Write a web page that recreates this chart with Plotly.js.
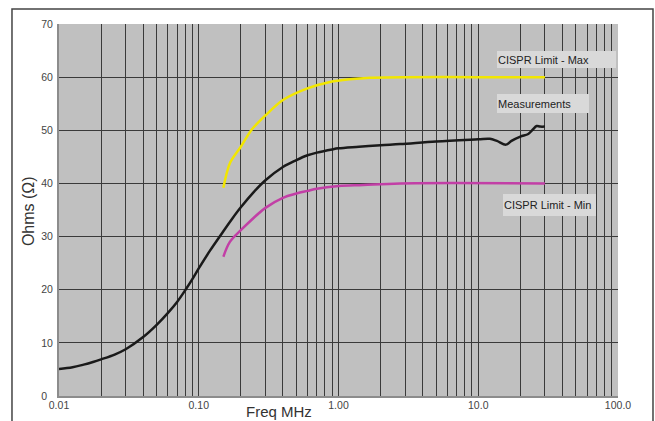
<!DOCTYPE html>
<html>
<head>
<meta charset="utf-8">
<script src="https://cdn.plot.ly/plotly-3.0.1.min.js"></script>
<style>html,body{margin:0;padding:0;background:#fff;}#chart{width:655px;height:421px;}</style>
</head>
<body>
<div id="chart"></div>
<script>
// ---- data ----
const measFreq = [0.01, 0.0125, 0.015, 0.0175, 0.02, 0.025, 0.03, 0.04, 0.05, 0.06, 0.07, 0.08, 0.09, 0.10, 0.12, 0.15, 0.174, 0.2, 0.25, 0.3, 0.4, 0.5, 0.6, 0.7, 0.9, 1.0, 1.4, 2.0, 2.76, 5.0, 10, 12.1, 13.6, 15.8, 17.3, 20, 22.8, 24.5, 26.2, 27.7, 30];
const measOhms = [5.1, 5.4, 5.9, 6.4, 6.9, 7.8, 8.8, 11.1, 13.4, 15.6, 17.7, 19.9, 22.0, 24.0, 27.3, 31.0, 33.4, 35.5, 38.5, 40.6, 43.1, 44.4, 45.3, 45.8, 46.4, 46.6, 46.9, 47.2, 47.4, 47.9, 48.3, 48.4, 48.0, 47.3, 48.0, 48.8, 49.3, 50.1, 50.8, 50.7, 50.7];

const maxFreq = [0.15, 0.167, 0.2, 0.239, 0.3, 0.4, 0.6, 0.87, 1.2, 1.68, 3, 10, 30];
const maxOhms = [39.2, 43.8, 46.9, 50.1, 52.8, 55.7, 57.9, 59.1, 59.6, 59.9, 60, 60, 60];

const minFreq = [0.15, 0.167, 0.2, 0.3, 0.4, 0.5, 0.6, 0.7, 1.0, 1.5, 2.76, 30];
const minOhms = [26.2, 29.0, 31.2, 35.4, 37.3, 38.1, 38.6, 39.0, 39.5, 39.7, 40.0, 40.0];

const xTickVals = [0.01,0.02,0.03,0.04,0.05,0.06,0.07,0.08,0.09,
                   0.1,0.2,0.3,0.4,0.5,0.6,0.7,0.8,0.9,
                   1,2,3,4,5,6,7,8,9,
                   10,20,30,40,50,60,70,80,90,100];
const xLabelMap = {0.01:"0.01", 0.1:"0.10", 1:"1.00", 10:"10.0", 100:"100.0"};
const xTickText = xTickVals.map(v => xLabelMap[v] || "");
const yTickVals = [0,10,20,30,40,50,60,70];
const yTickText = ["0\u00a0\u00a0", "10", "20", "30", "40", "50", "60", "70"];

const labelMax = "CISPR Limit - Max";
const labelMeas = "Measurements";
const labelMin = "CISPR Limit - Min";

const FONT = "Liberation Sans, Arial, sans-serif";

const traces = [
  {x: maxFreq, y: maxOhms, mode: "lines", line: {color: "#f2e600", width: 2.5, shape: "spline", smoothing: 0.8}, name: labelMax},
  {x: minFreq, y: minOhms, mode: "lines", line: {color: "#c23fa6", width: 2.5, shape: "spline", smoothing: 1}, name: labelMin},
  {x: measFreq, y: measOhms, mode: "lines", line: {color: "#1a1a1a", width: 2.5, shape: "spline", smoothing: 1}, name: labelMeas}
];

const boxStyle = {xref: "paper", yref: "paper", showarrow: false, xanchor: "left", yanchor: "middle",
  align: "left", bgcolor: "#d9d9d9", borderpad: 1, borderwidth: 0,
  font: {family: FONT, size: 11, color: "#222"}};

const layout = {
  width: 655, height: 421,
  margin: {l: 59, r: 37, t: 24, b: 25, pad: 0},
  paper_bgcolor: "#ffffff",
  plot_bgcolor: "#c0c0c0",
  showlegend: false,
  font: {family: FONT, size: 10.5, color: "#444"},
  xaxis: {
    type: "log", range: [-2, 2],
    tickmode: "array", tickvals: xTickVals, ticktext: xTickText,
    showgrid: true, gridcolor: "#3a3a3a", gridwidth: 1,
    showline: true, linecolor: "#8c8c8c", linewidth: 2,
    ticks: "", zeroline: false, ticklabelstandoff: -2,
    tickfont: {family: FONT, size: 10.5, color: "#444"}
  },
  yaxis: {
    range: [0, 70], tickmode: "array", tickvals: yTickVals, ticktext: yTickText,
    showgrid: true, gridcolor: "#3a3a3a", gridwidth: 1,
    showline: true, linecolor: "#8c8c8c", linewidth: 2,
    ticks: "", zeroline: false, ticklabelstandoff: 2,
    tickfont: {family: FONT, size: 10.5, color: "#444"}
  },
  shapes: [
    {type: "rect", xref: "paper", yref: "paper", x0: -0.0841, x1: 1.0626, y0: -0.12, y1: 1.0403,
     line: {color: "#444", width: 1.5}, fillcolor: "rgba(0,0,0,0)", layer: "below"}
  ],
  annotations: [
    Object.assign({}, boxStyle, {text: labelMax, x: 0.7835, y: 0.9046, width: 117, height: 15}),
    Object.assign({}, boxStyle, {text: labelMeas, x: 0.7835, y: 0.7863, width: 90, height: 17}),
    Object.assign({}, boxStyle, {text: labelMin, x: 0.7943, y: 0.5134, width: 91, height: 20}),
    {xref: "paper", yref: "paper", x: 0.3936, y: -0.043, xanchor: "center", yanchor: "middle",
     showarrow: false, text: "Freq MHz", font: {family: FONT, size: 15, color: "#333"}},
    {xref: "paper", yref: "paper", x: -0.0555, y: 0.497, xanchor: "center", yanchor: "middle",
     showarrow: false, textangle: -90, text: "Ohms (Ω)", font: {family: FONT, size: 16, color: "#333"}}
  ]
};

Plotly.newPlot("chart", traces, layout, {staticPlot: true, displayModeBar: false});
</script>
</body>
</html>
